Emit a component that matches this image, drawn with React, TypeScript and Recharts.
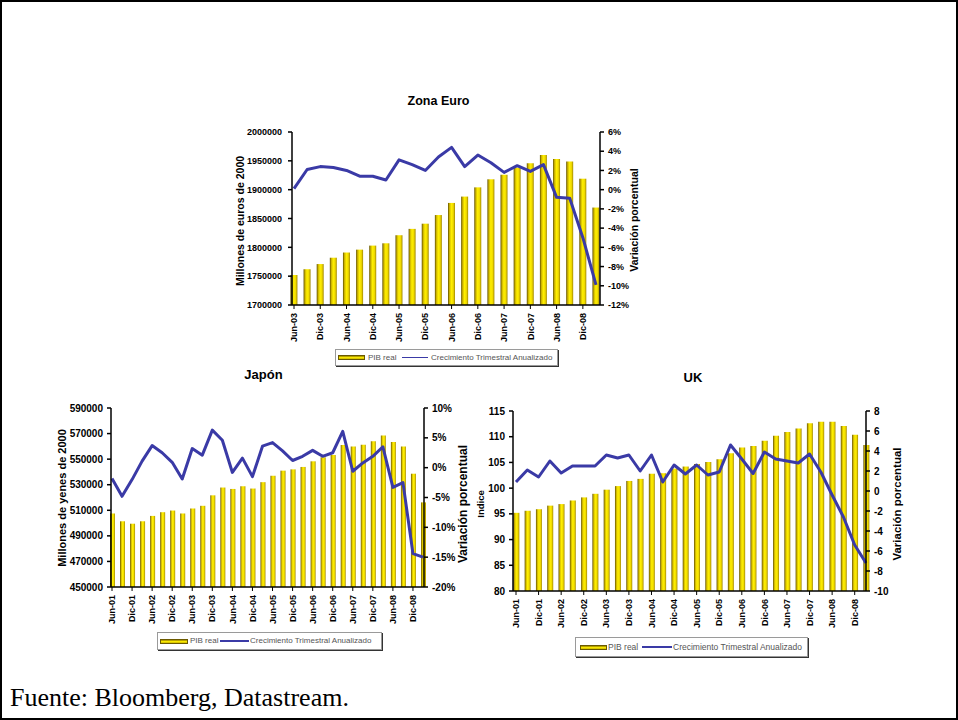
import React from 'react';
import { ComposedChart, Bar, Line, XAxis, YAxis } from 'recharts';

const FONT = '"Liberation Sans", Arial, Helvetica, sans-serif';
const LINE_COLOR = '#3a3aa6';

// ---------- Zona Euro ----------
const euroQuarters = [
  'Jun-03', 'Sep-03', 'Dic-03', 'Mar-04', 'Jun-04', 'Sep-04', 'Dic-04', 'Mar-05',
  'Jun-05', 'Sep-05', 'Dic-05', 'Mar-06', 'Jun-06', 'Sep-06', 'Dic-06', 'Mar-07',
  'Jun-07', 'Sep-07', 'Dic-07', 'Mar-08', 'Jun-08', 'Sep-08', 'Dic-08', 'Mar-09',
];
const euroGdp = [
  1752000, 1762000, 1771000, 1782000, 1791000, 1796000, 1803000, 1807000,
  1821000, 1832000, 1841000, 1856000, 1877000, 1888000, 1904000, 1918000,
  1926000, 1938000, 1946000, 1960000, 1953000, 1949000, 1919000, 1869000,
];
const euroGrowth = [
  0.1, 2.1, 2.4, 2.3, 2.0, 1.4, 1.4, 1.0,
  3.1, 2.6, 2.0, 3.4, 4.4, 2.4, 3.6, 2.8,
  1.8, 2.5, 1.9, 2.6, -0.8, -0.9, -5.0, -9.9,
];
const euroLeftTicks = [1700000, 1750000, 1800000, 1850000, 1900000, 1950000, 2000000];
const euroRightTicks = [-12, -10, -8, -6, -4, -2, 0, 2, 4, 6];

// ---------- Japón ----------
const japanQuarters = [
  'Jun-01', 'Sep-01', 'Dic-01', 'Mar-02', 'Jun-02', 'Sep-02', 'Dic-02', 'Mar-03',
  'Jun-03', 'Sep-03', 'Dic-03', 'Mar-04', 'Jun-04', 'Sep-04', 'Dic-04', 'Mar-05',
  'Jun-05', 'Sep-05', 'Dic-05', 'Mar-06', 'Jun-06', 'Sep-06', 'Dic-06', 'Mar-07',
  'Jun-07', 'Sep-07', 'Dic-07', 'Mar-08', 'Jun-08', 'Sep-08', 'Dic-08', 'Mar-09',
];
const japanGdp = [
  507500, 501400, 499500, 501400, 505600, 508500, 509800, 507500,
  511400, 513500, 521700, 527800, 526700, 528800, 527000, 532000,
  537000, 541000, 542000, 543900, 548300, 551500, 553300, 561000,
  559900, 561300, 563900, 568400, 563400, 559900, 538600, 516200,
];
const japanGrowth = [
  -1.8, -4.8, -2.0, 1.1, 3.7, 2.5, 0.9, -1.9,
  3.2, 2.1, 6.3, 4.6, -0.8, 1.6, -1.5, 3.6,
  4.2, 2.8, 1.2, 1.9, 2.9, 1.9, 2.5, 6.1,
  -0.6, 0.8, 1.9, 3.5, -3.3, -2.5, -14.4, -15.0,
];
const japanLeftTicks = [450000, 470000, 490000, 510000, 530000, 550000, 570000, 590000];
const japanRightTicks = [-20, -15, -10, -5, 0, 5, 10];

// ---------- UK ----------
const ukQuarters = japanQuarters;
const ukGdp = [
  95.2, 95.6, 95.9, 96.6, 96.9, 97.6, 98.2, 98.9,
  99.7, 100.4, 101.4, 101.8, 102.8, 102.9, 103.8, 104.2,
  104.7, 105.1, 105.6, 106.8, 107.9, 108.2, 109.2, 110.2,
  110.9, 111.6, 112.6, 112.9, 112.9, 112.1, 110.4, 108.4,
];
const ukGrowth = [
  0.9, 2.1, 1.4, 3.0, 1.8, 2.5, 2.5, 2.5,
  3.6, 3.3, 3.6, 2.0, 3.6, 0.9, 2.6, 1.7,
  2.6, 1.6, 1.9, 4.6, 3.2, 1.75, 3.9, 3.2,
  3.0, 2.8, 3.7, 1.9, -0.4, -2.6, -5.4, -7.2,
];
const ukLeftTicks = [80, 85, 90, 95, 100, 105, 110, 115];
const ukRightTicks = [-10, -8, -6, -4, -2, 0, 2, 4, 6, 8];

const BAR_CSS_GRADIENT =
  'linear-gradient(to bottom, #8a7400 0%, #e6cf00 35%, #fff200 55%, #c9b000 100%)';

type ChartProps = {
  id: string;
  left: number;
  top: number;
  width: number;
  height: number;
  quarters: string[];
  gdp: number[];
  growth: number[];
  leftTicks: number[];
  rightTicks: number[];
  rightFormat: (v: number) => string;
  padL: number;
  padR: number;
  barSize: number;
  yFont: number;
  leftMargin: number;
};

function DualChart(p: ChartProps) {
  const data = p.quarters.map((q, i) => ({ i, q, gdp: p.gdp[i], growth: p.growth[i] }));
  const n = p.quarters.length;
  const xTicks = p.quarters.map((_, i) => i).filter((i) => i % 2 === 0);
  const gid = `barGrad-${p.id}`;
  const tickStyle = { fontSize: p.yFont, fontWeight: 'bold' as const, fill: '#000', fontFamily: FONT };
  const renderXTick = (t: any) => (
    <g transform={`translate(${t.x},${t.y})`}>
      <text
        x={0}
        y={0}
        dy="0.35em"
        textAnchor="end"
        transform="rotate(-90)"
        fontSize={9}
        fontWeight="bold"
        fontFamily={FONT}
        fill="#000"
      >
        {p.quarters[t.payload.value]}
      </text>
    </g>
  );
  return (
    <div style={{ position: 'absolute', left: p.left, top: p.top }}>
      <ComposedChart
        width={p.width}
        height={p.height}
        data={data}
        margin={{ top: 10, right: 0, bottom: 0, left: 0 }}
      >
        <defs>
          <linearGradient id={gid} x1="0" y1="0" x2="1" y2="0">
            <stop offset="0%" stopColor="#5e4e00" />
            <stop offset="22%" stopColor="#cdb400" />
            <stop offset="48%" stopColor="#fff000" />
            <stop offset="75%" stopColor="#f0da00" />
            <stop offset="100%" stopColor="#a08800" />
          </linearGradient>
        </defs>
        <XAxis
          xAxisId="x"
          type="number"
          dataKey="i"
          domain={[0, n - 1]}
          ticks={xTicks}
          interval={0}
          padding={{ left: p.padL, right: p.padR }}
          height={40}
          tickSize={4}
          tickMargin={4}
          tick={renderXTick}
          axisLine={{ stroke: '#000', strokeWidth: 1.5 }}
          tickLine={{ stroke: '#000', strokeWidth: 1 }}
        />
        <YAxis
          yAxisId="left"
          orientation="left"
          width={70}
          domain={[p.leftTicks[0], p.leftTicks[p.leftTicks.length - 1]]}
          ticks={p.leftTicks}
          interval={0}
          tickSize={4}
          tickMargin={p.leftMargin}
          tick={tickStyle}
          axisLine={{ stroke: '#000', strokeWidth: 1.5 }}
          tickLine={{ stroke: '#000', strokeWidth: 1.5 }}
        />
        <YAxis
          yAxisId="right"
          orientation="right"
          width={40}
          domain={[p.rightTicks[0], p.rightTicks[p.rightTicks.length - 1]]}
          ticks={p.rightTicks}
          interval={0}
          tickSize={4}
          tickMargin={4}
          tick={tickStyle}
          tickFormatter={p.rightFormat}
          axisLine={{ stroke: '#000', strokeWidth: 1.5 }}
          tickLine={{ stroke: '#000', strokeWidth: 1.5 }}
        />
        <Bar
          xAxisId="x"
          yAxisId="left"
          dataKey="gdp"
          fill={`url(#${gid})`}
          barSize={p.barSize}
          isAnimationActive={false}
        />
        <Line
          xAxisId="x"
          yAxisId="right"
          dataKey="growth"
          type="linear"
          stroke={LINE_COLOR}
          strokeWidth={3}
          strokeLinejoin="round"
          dot={false}
          activeDot={false}
          isAnimationActive={false}
        />
      </ComposedChart>
    </div>
  );
}

function Title({ cx, cy, size, children }: { cx: number; cy: number; size: number; children: React.ReactNode }) {
  return (
    <div
      style={{
        position: 'absolute',
        left: cx - 100,
        width: 200,
        top: cy - size * 0.6,
        lineHeight: `${size * 1.2}px`,
        fontSize: size,
        fontWeight: 'bold',
        fontFamily: FONT,
        textAlign: 'center',
        color: '#000',
      }}
    >
      {children}
    </div>
  );
}

function VTitle({ cx, cy, size, children }: { cx: number; cy: number; size: number; children: React.ReactNode }) {
  return (
    <div
      style={{
        position: 'absolute',
        left: cx,
        top: cy,
        transform: 'translate(-50%, -50%) rotate(-90deg)',
        fontSize: size,
        lineHeight: `${size * 1.2}px`,
        fontWeight: 'bold',
        fontFamily: FONT,
        whiteSpace: 'nowrap',
        color: '#000',
      }}
    >
      {children}
    </div>
  );
}

type LegendProps = {
  x: number;
  y: number;
  w: number;
  h: number;
  swatchX: number;
  swatchW: number;
  pibX: number;
  lineX: number;
  lineW: number;
  textX: number;
  size: number;
};

function LegendBox(l: LegendProps) {
  const cy = l.y + l.h / 2;
  const txt = (x: number, s: string) => (
    <div
      style={{
        position: 'absolute',
        left: x,
        top: cy - l.size * 0.6,
        fontSize: l.size,
        lineHeight: `${l.size * 1.2}px`,
        fontFamily: FONT,
        color: '#555',
        whiteSpace: 'nowrap',
      }}
    >
      {s}
    </div>
  );
  return (
    <>
      <div
        style={{
          position: 'absolute',
          left: l.x,
          top: l.y,
          width: l.w,
          height: l.h,
          border: '1px solid #9a9a9a',
          boxShadow: '1px 1px 0 #333',
          boxSizing: 'border-box',
          background: '#fff',
        }}
      />
      <div
        style={{
          position: 'absolute',
          left: l.swatchX,
          top: cy - 2.5,
          width: l.swatchW,
          height: 5,
          background: BAR_CSS_GRADIENT,
          border: '1px solid #6b5a00',
          boxSizing: 'border-box',
        }}
      />
      {txt(l.pibX, 'PIB real')}
      <div
        style={{
          position: 'absolute',
          left: l.lineX,
          top: cy - 0.75,
          width: l.lineW,
          height: 1.5,
          background: LINE_COLOR,
        }}
      />
      {txt(l.textX, 'Crecimiento Trimestral Anualizado')}
    </>
  );
}

const pct = (v: number) => `${v}%`;
const plain = (v: number) => `${v}`;

export default function App() {
  return (
    <div
      style={{
        position: 'absolute',
        left: 0,
        top: 0,
        width: 958,
        height: 720,
        border: '2px solid #000',
        boxSizing: 'border-box',
        background: '#fff',
        overflow: 'hidden',
      }}
    >
      <div style={{ position: 'absolute', left: -2, top: -2, width: 958, height: 720 }}>
        {/* Zona Euro */}
        <Title cx={438.5} cy={101.5} size={12.5}>Zona Euro</Title>
        <DualChart
          id="euro"
          left={222}
          top={122}
          width={418}
          height={223}
          quarters={euroQuarters}
          gdp={euroGdp}
          growth={euroGrowth}
          leftTicks={euroLeftTicks}
          rightTicks={euroRightTicks}
          rightFormat={pct}
          padL={2}
          padR={4}
          barSize={7}
          yFont={9}
          leftMargin={6}
        />
        <VTitle cx={240} cy={221} size={10.5}>Millones de euros de 2000</VTitle>
        <VTitle cx={633.5} cy={220} size={10.5}>Variación porcentual</VTitle>
        <LegendBox x={335} y={349} w={223} h={17} swatchX={338} swatchW={27} pibX={368} lineX={402} lineW={26} textX={431} size={8} />

        {/* Japón */}
        <Title cx={263.5} cy={375} size={13}>Japón</Title>
        <DualChart
          id="japan"
          left={41}
          top={398}
          width={423}
          height={229}
          quarters={japanQuarters}
          gdp={japanGdp}
          growth={japanGrowth}
          leftTicks={japanLeftTicks}
          rightTicks={japanRightTicks}
          rightFormat={pct}
          padL={1}
          padR={1}
          barSize={5}
          yFont={10}
          leftMargin={4}
        />
        <VTitle cx={63} cy={497.5} size={11}>Millones de yenes de 2000</VTitle>
        <VTitle cx={463} cy={504} size={12}>Variación porcentual</VTitle>
        <LegendBox x={157} y={632} w={225} h={18} swatchX={160} swatchW={28} pibX={190} lineX={220} lineW={29} textX={250} size={8} />

        {/* UK */}
        <Title cx={693} cy={377.5} size={13}>UK</Title>
        <DualChart
          id="uk"
          left={443}
          top={401}
          width={463}
          height={230}
          quarters={ukQuarters}
          gdp={ukGdp}
          growth={ukGrowth}
          leftTicks={ukLeftTicks}
          rightTicks={ukRightTicks}
          rightFormat={plain}
          padL={3}
          padR={0}
          barSize={6}
          yFont={10}
          leftMargin={4}
        />
        <VTitle cx={481} cy={504} size={9.5}>Indice</VTitle>
        <VTitle cx={898} cy={504} size={11.5}>Variación porcentual</VTitle>
        <LegendBox x={575} y={637} w={233} h={20} swatchX={580} swatchW={27} pibX={608} lineX={642} lineW={30} textX={673} size={8.5} />

        {/* Fuente */}
        <div
          style={{
            position: 'absolute',
            left: 10,
            top: 685,
            fontSize: 26,
            lineHeight: '26px',
            fontFamily: '"Liberation Serif", "Times New Roman", Times, serif',
            color: '#000',
            whiteSpace: 'nowrap',
          }}
        >
          Fuente: Bloomberg, Datastream.
        </div>
      </div>
    </div>
  );
}
